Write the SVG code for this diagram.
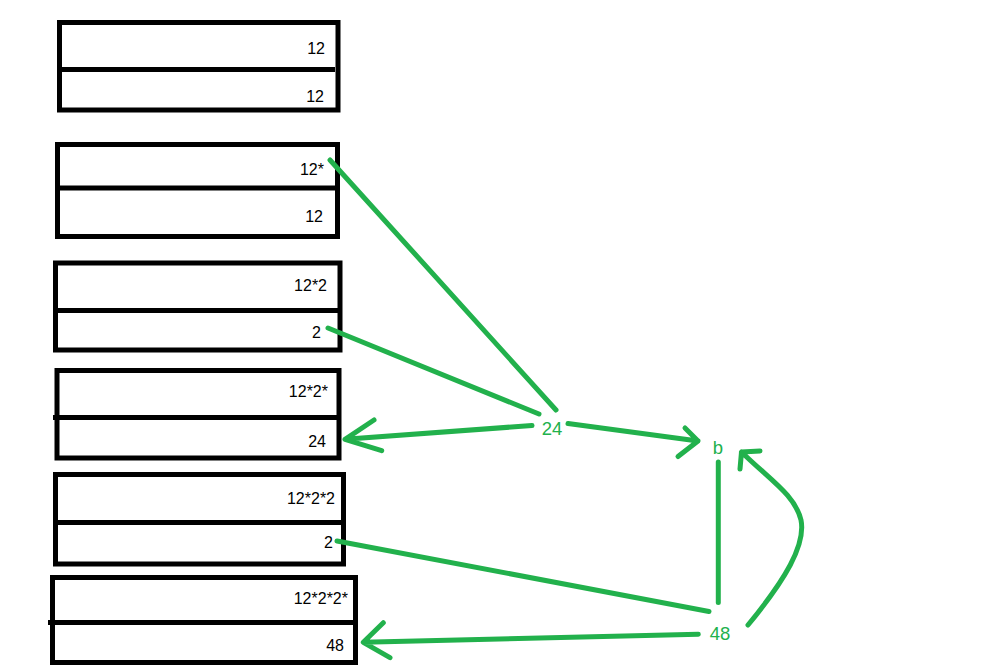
<svg xmlns="http://www.w3.org/2000/svg" width="984" height="669" viewBox="0 0 984 669">
<style>
.box{fill:none;stroke:#000;stroke-width:5}
.div{stroke:#000;stroke-width:5}
.t{font-family:"Liberation Sans",Arial,sans-serif;font-size:16px;fill:#000;text-anchor:end}
.g{fill:none;stroke:#22b14c;stroke-width:5;stroke-linecap:round;stroke-linejoin:round}
.gt{font-family:"Liberation Sans",Arial,sans-serif;font-size:18.5px;fill:#22b14c;text-anchor:middle}
</style>
<rect width="984" height="669" fill="#fff"/>
<g id="box1">
<rect class="box" x="59.5" y="22.5" width="278.5" height="87.5"/>
<line class="div" x1="59.5" y1="69.5" x2="335" y2="69.5"/>
<text class="t" x="325" y="54">12</text>
<text class="t" x="324" y="102">12</text>
</g>
<g id="box2">
<rect class="box" x="57.5" y="144.5" width="280" height="92"/>
<line class="div" x1="57.5" y1="188" x2="335" y2="188"/>
<text class="t" x="324" y="175">12*</text>
<text class="t" x="323" y="222">12</text>
</g>
<g id="box3">
<rect class="box" x="55.5" y="263" width="284.5" height="87"/>
<line class="div" x1="55.5" y1="310.5" x2="340" y2="310.5"/>
<text class="t" x="327" y="291">12*2</text>
<text class="t" x="321" y="338">2</text>
</g>
<g id="box4">
<rect class="box" x="57" y="370.5" width="282" height="87.5"/>
<line class="div" x1="53" y1="417.5" x2="339" y2="417.5"/>
<text class="t" x="328" y="397">12*2*</text>
<text class="t" x="326" y="447">24</text>
</g>
<g id="box5">
<rect class="box" x="55.5" y="474.5" width="288" height="89.5"/>
<line class="div" x1="55.5" y1="522.5" x2="343.5" y2="522.5"/>
<text class="t" x="335" y="503.5">12*2*2</text>
<text class="t" x="333" y="548">2</text>
</g>
<g id="box6">
<rect class="box" x="52.5" y="577.5" width="303" height="85"/>
<line class="div" x1="48" y1="622.5" x2="355.5" y2="622.5"/>
<text class="t" x="348" y="604">12*2*2*</text>
<text class="t" x="344" y="651">48</text>
</g>
<g id="n24"><text class="gt" x="552" y="435">24</text></g>
<g id="nb"><text class="gt" x="718" y="454">b</text></g>
<g id="n48"><text class="gt" x="720" y="640">48</text></g>
<g id="connectors">
<path class="g" d="M330,160 L556,410"/>
<path class="g" d="M328,328 L539,414"/>
<path class="g" d="M532,425.5 L345,439.3 M374,420 L345,439.3 L381.7,450.7"/>
<path class="g" d="M568,423.5 L698,441 M685,428 L698,441 L678,456.5"/>
<path class="g" d="M718.3,462 L718.3,602.5"/>
<path class="g" d="M337,541 L709,611.5"/>
<path class="g" d="M698.3,634.3 L363.3,642.3 M383.3,622.7 L363.3,642.3 L390,657.7"/>
<path class="g" d="M748,625 C785,580 806,545 801,520 C795,495 770,480 741.5,452 M760,451 L741.5,452 L740,469"/>
</g>
</svg>
